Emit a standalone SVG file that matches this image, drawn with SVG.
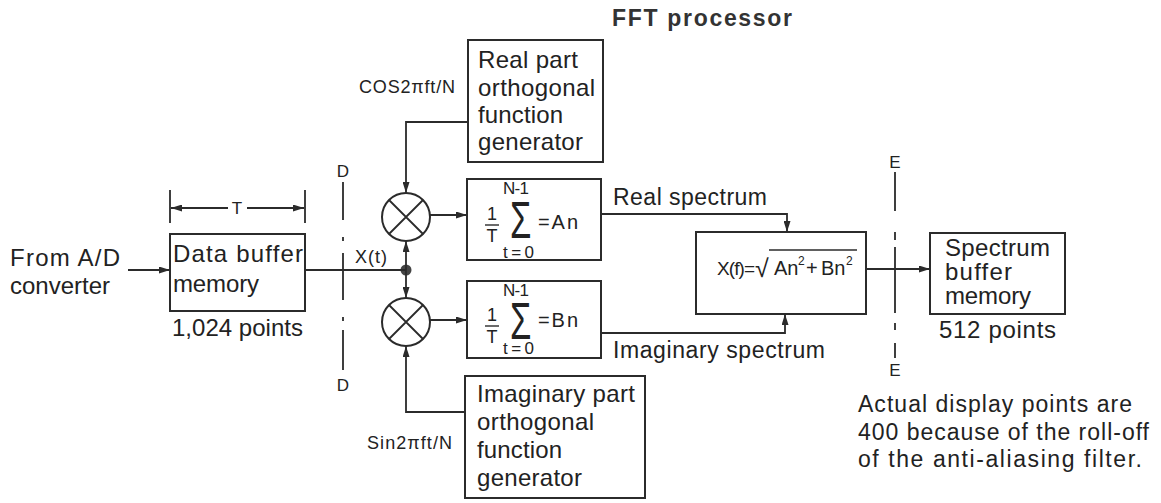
<svg xmlns="http://www.w3.org/2000/svg" width="1161" height="503" viewBox="0 0 1161 503">
<defs>
<style>
.ln{fill:none;stroke:#2b2b2b;stroke-width:1.8}
.bx{fill:#fff;stroke:#2b2b2b;stroke-width:2}
.t{font-family:"Liberation Sans",Arial,sans-serif;font-size:24px;fill:#222}
.n{font-family:"Liberation Sans",Arial,sans-serif;font-size:23px;fill:#222}
.s{font-family:"Liberation Sans",Arial,sans-serif;font-size:18px;fill:#222}
.f{font-family:"Liberation Sans",Arial,sans-serif;font-size:17px;fill:#222}
.m{font-family:"Liberation Sans",Arial,sans-serif;font-size:20px;fill:#222}
.b{font-family:"Liberation Sans",Arial,sans-serif;font-size:23px;font-weight:bold;fill:#333}
</style>
<marker id="ah" markerUnits="userSpaceOnUse" markerWidth="11" markerHeight="7" refX="11" refY="3.5" orient="auto">
<path d="M0,0 L11,3.5 L0,7 z" fill="#2b2b2b"/>
</marker>
</defs>
<rect width="1161" height="503" fill="#fff"/>

<text class="b" x="612" y="26" textLength="180" lengthAdjust="spacing">FFT processor</text>

<g id="input-label">
<text class="t" x="10" y="266" textLength="110" lengthAdjust="spacing">From A/D</text>
<text class="t" x="10" y="294" textLength="100" lengthAdjust="spacing">converter</text>
</g>

<g id="data-buffer">
<rect class="bx" x="170" y="234" width="135" height="77"/>
<text class="t" x="173" y="262" textLength="130" lengthAdjust="spacing">Data buffer</text>
<text class="t" x="173" y="292" textLength="86" lengthAdjust="spacing">memory</text>
<text class="t" x="172" y="336" textLength="131" lengthAdjust="spacing">1,024 points</text>
</g>

<g id="period-T">
<line class="ln" x1="170" y1="190" x2="170" y2="223"/>
<line class="ln" x1="305" y1="190" x2="305" y2="223"/>
<line class="ln" x1="228" y1="208" x2="171" y2="208" marker-end="url(#ah)"/>
<line class="ln" x1="247" y1="208" x2="304" y2="208" marker-end="url(#ah)"/>
<text class="f" x="237" y="214" text-anchor="middle">T</text>
</g>

<g id="line-D">
<path class="ln" d="M343,182V220M343,237V241M343,253V300M343,317V321M343,330V370"/>
<text class="f" x="343" y="177" text-anchor="middle">D</text>
<text class="f" x="343" y="391" text-anchor="middle">D</text>
</g>

<g id="line-E">
<path class="ln" d="M895,172V211M895,232V240M895,247V313M895,323V330M895,343V358"/>
<text class="f" x="895" y="168" text-anchor="middle">E</text>
<text class="f" x="895" y="376" text-anchor="middle">E</text>
</g>

<g id="real-generator">
<rect class="bx" x="468" y="40" width="135" height="122"/>
<text class="t" x="478" y="68" textLength="100" lengthAdjust="spacing">Real part</text>
<text class="t" x="478" y="96" textLength="117" lengthAdjust="spacing">orthogonal</text>
<text class="t" x="478" y="123" textLength="85" lengthAdjust="spacing">function</text>
<text class="t" x="478" y="150" textLength="105" lengthAdjust="spacing">generator</text>
<text class="s" x="359" y="93" textLength="96" lengthAdjust="spacing">COS2πft/N</text>
</g>

<g id="imag-generator">
<rect class="bx" x="465" y="376" width="180" height="122"/>
<text class="t" x="477" y="402" textLength="158" lengthAdjust="spacing">Imaginary part</text>
<text class="t" x="477" y="430" textLength="117" lengthAdjust="spacing">orthogonal</text>
<text class="t" x="477" y="458" textLength="85" lengthAdjust="spacing">function</text>
<text class="t" x="477" y="486" textLength="105" lengthAdjust="spacing">generator</text>
<text class="s" x="367" y="449" textLength="85" lengthAdjust="spacing">Sin2πft/N</text>
</g>

<g id="mixer-real">
<circle class="bx" cx="406" cy="217" r="24"/>
<path class="ln" d="M389,200L423,234M423,200L389,234"/>
</g>

<g id="mixer-imag">
<circle class="bx" cx="406" cy="322" r="24"/>
<path class="ln" d="M389,305L423,339M423,305L389,339"/>
</g>

<g id="junction">
<circle cx="406" cy="270" r="5.5" fill="#444"/>
<text class="s" x="355" y="263" textLength="32" lengthAdjust="spacing">X(t)</text>
</g>

<g id="sum-real">
<rect class="bx" x="467" y="179" width="134" height="81"/>
<text class="f" x="503" y="194" textLength="26" lengthAdjust="spacing">N-1</text>
<text class="s" x="492" y="220" text-anchor="middle">1</text>
<line class="ln" x1="485" y1="225" x2="499" y2="225" style="stroke-width:1.4"/>
<text class="s" x="492" y="242" text-anchor="middle">T</text>
<text class="f" style="font-size:30px" transform="translate(510,238) scale(1.15,1.72)">Σ</text>
<text class="m" x="538" y="229" textLength="40" lengthAdjust="spacing">=An</text>
<text class="f" x="503" y="258" textLength="31" lengthAdjust="spacing">t=0</text>
</g>

<g id="sum-imag">
<rect class="bx" x="467" y="281" width="134" height="77"/>
<text class="f" x="503" y="296" textLength="26" lengthAdjust="spacing">N-1</text>
<text class="s" x="492" y="321" text-anchor="middle">1</text>
<line class="ln" x1="485" y1="326" x2="499" y2="326" style="stroke-width:1.4"/>
<text class="s" x="492" y="343" text-anchor="middle">T</text>
<text class="f" style="font-size:30px" transform="translate(510,339) scale(1.15,1.72)">Σ</text>
<text class="m" x="538" y="327" textLength="40" lengthAdjust="spacing">=Bn</text>
<text class="f" x="503" y="354" textLength="31" lengthAdjust="spacing">t=0</text>
</g>

<g id="magnitude">
<rect class="bx" x="696" y="232" width="170" height="82"/>
<text class="m" x="717" y="275" style="font-size:19px" textLength="38" lengthAdjust="spacing">X(f)=</text>
<text class="m" x="755" y="277" style="font-size:25px">√</text>
<line class="ln" x1="769" y1="250" x2="857" y2="250" style="stroke-width:1.3"/>
<text class="m" x="774" y="275">An</text>
<text class="m" x="798" y="265" style="font-size:12px">2</text>
<text class="m" x="806" y="275">+</text>
<text class="m" x="821" y="275">Bn</text>
<text class="m" x="846" y="265" style="font-size:12px">2</text>
</g>

<g id="spectrum-buffer">
<rect class="bx" x="930" y="233" width="135" height="81"/>
<text class="t" x="945" y="256" textLength="105" lengthAdjust="spacing">Spectrum</text>
<text class="t" x="945" y="280" textLength="67" lengthAdjust="spacing">buffer</text>
<text class="t" x="945" y="304" textLength="86" lengthAdjust="spacing">memory</text>
<text class="t" x="939" y="338" textLength="117" lengthAdjust="spacing">512 points</text>
</g>

<g id="note">
<text class="n" x="858" y="412" textLength="274" lengthAdjust="spacing">Actual display points are</text>
<text class="n" x="858" y="440" textLength="291" lengthAdjust="spacing">400 because of the roll-off</text>
<text class="n" x="858" y="467" textLength="284" lengthAdjust="spacing">of the anti-aliasing filter.</text>
</g>

<g id="connectors">
<line class="ln" x1="128" y1="270" x2="170" y2="270" marker-end="url(#ah)"/>
<line class="ln" x1="305" y1="270" x2="406" y2="270"/>
<line class="ln" x1="406" y1="270" x2="406" y2="241" marker-end="url(#ah)"/>
<line class="ln" x1="406" y1="270" x2="406" y2="298" marker-end="url(#ah)"/>
<polyline class="ln" points="468,122 406,122 406,193" marker-end="url(#ah)"/>
<polyline class="ln" points="465,412 406,412 406,346" marker-end="url(#ah)"/>
<line class="ln" x1="430" y1="215" x2="467" y2="215" marker-end="url(#ah)"/>
<line class="ln" x1="430" y1="320" x2="467" y2="320" marker-end="url(#ah)"/>
<polyline class="ln" points="601,214 787,214 787,232" marker-end="url(#ah)"/>
<polyline class="ln" points="601,333 785,333 785,314" marker-end="url(#ah)"/>
<line class="ln" x1="866" y1="269" x2="930" y2="269" marker-end="url(#ah)"/>
<text class="n" x="613" y="205" textLength="154" lengthAdjust="spacing">Real spectrum</text>
<text class="n" x="613" y="358" textLength="212" lengthAdjust="spacing">Imaginary spectrum</text>
</g>
</svg>
